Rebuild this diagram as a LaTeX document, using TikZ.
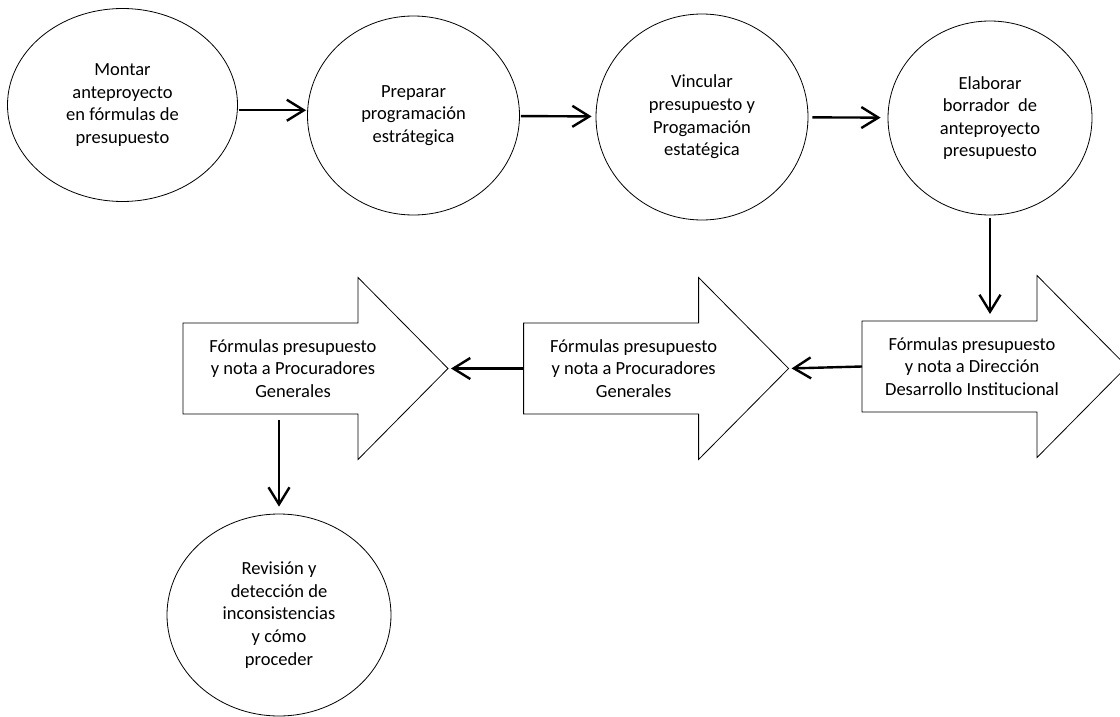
\documentclass[tikz,border=0pt]{standalone}
\usepackage{fontspec}
\setmainfont{Carlito}
\usetikzlibrary{arrows.meta,shapes.geometric}
\tikzset{
  shapeline/.style={draw=black, line width=0.8pt},
  ell/.style={shapeline, ellipse, inner sep=0pt, align=center,
    font=\fontsize{18.5}{22.6}\selectfont},
  txt/.style={inner sep=0pt, align=center, font=\fontsize{18.5}{22.6}\selectfont},
  conn/.style={line width=2.4pt, -{Straight Barb[length=17pt,width=21pt]}},
}
\newcommand\blockarrow[4]{%
  \begin{scope}[shift={(#2,#3)}]
    \draw[shapeline, fill=white] (0,0) -- (175,0) -- (175,-45.5) -- (265,45.5)
      -- (175,136.5) -- (175,91) -- (0,91) -- cycle;
    \coordinate (#1-nw) at (0,0);
    \coordinate (#1-sw) at (0,91);
    \coordinate (#1-w) at (0,45.5);
    \coordinate (#1-tip) at (265,45.5);
    \node[txt] (#1) at (110,45.5) {#4};
  \end{scope}}
\begin{document}
\begin{tikzpicture}[x=1pt,y=-1pt]
\useasboundingbox (0,0) rectangle (1120,717);
\clip (0,0) rectangle (1120,717);
\fill[white] (0,0) rectangle (1120,717);

\node[ell, minimum width=230pt, minimum height=193pt] (e1) at (122.5,105)
  {Montar\\anteproyecto\\en fórmulas de\\presupuesto};
\node[ell, minimum width=212pt, minimum height=199pt] (e2) at (413.5,115.5)
  {Preparar\\programación\\estrátegica};
\node[ell, minimum width=212pt, minimum height=206pt] (e3) at (702,117)
  {Vincular\\presupuesto y\\Progamación\\estatégica};
\node[ell, minimum width=204pt, minimum height=194pt] (e4) at (990,118)
  {Elaborar\\borrador\ \ de\\anteproyecto\\presupuesto};
\node[ell, minimum width=224pt, minimum height=202pt] (e5) at (279,615)
  {Revisión y\\detección de\\inconsistencias\\y cómo\\proceder};

\blockarrow{ba1}{183}{323}{Fórmulas presupuesto\\y nota a Procuradores\\Generales}
\blockarrow{ba2}{523.6}{323}{Fórmulas presupuesto\\y nota a Procuradores\\Generales}
\blockarrow{ba3}{862}{321}{Fórmulas presupuesto\\y nota a Dirección\\Desarrollo Institucional}

\path (e1.east) -- (e2.west) coordinate[pos=0.5] (m12);
\draw[conn, shorten <=1pt, shorten >=1pt] (e1.east |- m12) -- (e2.west |- m12);
\draw[conn, shorten <=1pt, shorten >=4pt] (e2) -- (e3);
\draw[conn, shorten <=4pt, shorten >=7pt] (e3) -- (e4);
\draw[conn, shorten <=3pt, shorten >=7pt] (e4.south) -- (e4.south |- ba3-nw);
\draw[conn, shorten >=3pt] (ba3-w) -- (ba2-tip);
\draw[conn, shorten >=3pt] (ba2-w) -- (ba1-tip);
\draw[conn, shorten <=6pt, shorten >=7pt] (e5.north |- ba1-sw) -- (e5.north);
\end{tikzpicture}
\end{document}
